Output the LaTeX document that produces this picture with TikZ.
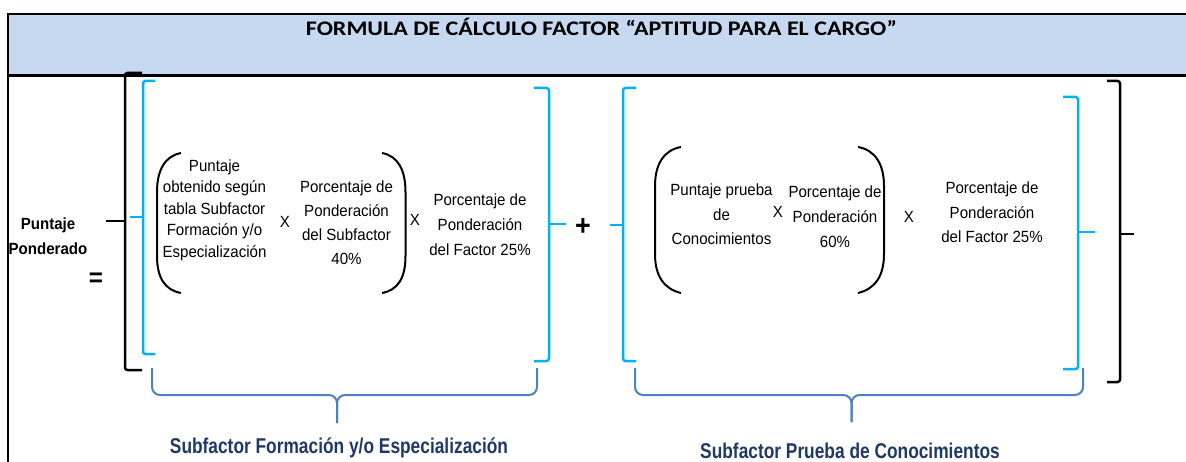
\documentclass[tikz,border=0pt]{standalone}
\usepackage{fontspec}
\setmainfont{Liberation Sans}[FakeStretch=0.93]
\newfontfamily\titlefont{Carlito}[FakeStretch=1.16]
\newfontfamily\narrowfont{Liberation Sans}[FakeStretch=0.81]
\definecolor{headblue}{HTML}{C6D9F0}
\definecolor{brcyan}{HTML}{00B0F0}
\definecolor{bracesteel}{HTML}{4F81BD}
\definecolor{labelnavy}{HTML}{1F3864}
\begin{document}
\begin{tikzpicture}[x=1pt,y=-1pt,
    txt/.style={align=center,inner sep=0pt},
    blkbr/.style={line width=2.5pt,rounded corners=2.5pt},
    cyanbr/.style={brcyan,line width=2.5pt,rounded corners=2.5pt},
    parbr/.style={line width=2pt},
    bracebr/.style={bracesteel,line width=2pt,rounded corners=8pt}]
  \clip (0,0) rectangle (1186,462);

  % frame and header
  \fill[headblue] (8,14) rectangle (1190,75);
  \draw[line width=2.5pt] (8,470)--(8,14)--(1190,14);
  \draw[line width=2.5pt] (8,75.5)--(1190,75.5);
  \node[anchor=base,inner sep=0pt,font=\titlefont\bfseries\fontsize{20.7}{24}\selectfont] (title)
    at (601.5,35.5) {FORMULA DE CÁLCULO FACTOR “APTITUD PARA EL CARGO”};

  % left side
  \node[txt,font=\bfseries\fontsize{16.2}{25}\selectfont] (pp) at (48,236.5) {Puntaje\\Ponderado};
  \node[txt,font=\bfseries\fontsize{26}{28}\selectfont] (eq) at (96,280) {=};

  % big black brackets
  \draw[blkbr] (142,73) -| (125,221) |- (142,370);
  \draw[blkbr] (125,221)--(106,221);
  \draw[blkbr] (1107,81) -| (1120,382) -- (1107,382);
  \draw[blkbr] (1120,234)--(1134,234);

  % first subfactor
  \draw[cyanbr] (155,81) -| (143,354) -- (155,354);
  \draw[cyanbr] (143,217)--(130,217);
  \draw[cyanbr] (534,88) -| (549,361) -- (534,361);
  \draw[cyanbr] (549,224)--(566,224);
  \draw[parbr] (181,153) .. controls (165,156) and (157,170) .. (157,192) -- (157,256)
    .. controls (157,278) and (165,290) .. (181,293);
  \draw[parbr] (382,153) .. controls (398,156) and (405.5,170) .. (405.5,192) -- (405.5,256)
    .. controls (405.5,278) and (398,290) .. (382,293);
  \node[txt,font=\fontsize{16.2}{21.5}\selectfont] (obt) at (214.5,210)
    {Puntaje\\obtenido según\\tabla Subfactor\\Formación y/o\\Especialización};
  \node[txt,font=\fontsize{16.2}{20}\selectfont] (xa) at (285,221.5) {X};
  \node[txt,font=\fontsize{16.2}{24}\selectfont] (pondsub) at (346.5,222.5)
    {Porcentaje de\\Ponderación\\del Subfactor\\40\%};
  \node[txt,font=\fontsize{16.2}{20}\selectfont] (xb) at (415,220) {X};
  \node[txt,font=\fontsize{16.2}{25}\selectfont] (facta) at (480,225)
    {Porcentaje de\\Ponderación\\del Factor 25\%};

  \node[txt,font=\bfseries\fontsize{29}{30}\selectfont] (plus) at (583,227) {+};

  % second subfactor
  \draw[cyanbr] (636,88) -| (623,361) -- (636,361);
  \draw[cyanbr] (623,225)--(610,225);
  \draw[cyanbr] (1063,97) -| (1078,369) -- (1063,369);
  \draw[cyanbr] (1078,232)--(1095,232);
  \draw[parbr] (681,147) .. controls (664,150) and (655,164) .. (655,186) -- (655,254)
    .. controls (655,276) and (664,289) .. (681,293);
  \draw[parbr] (858,147) .. controls (875,150) and (884,164) .. (884,186) -- (884,254)
    .. controls (884,276) and (875,289) .. (858,293);
  \node[txt,font=\fontsize{16.2}{24.5}\selectfont] (prueba) at (721.5,214.5)
    {Puntaje prueba\\de\\Conocimientos};
  \node[txt,font=\fontsize{16.2}{20}\selectfont] (xc) at (778,211.5) {X};
  \node[txt,font=\fontsize{16.2}{25}\selectfont] (pondsixty) at (835,217)
    {Porcentaje de\\Ponderación\\60\%};
  \node[txt,font=\fontsize{16.2}{20}\selectfont] (xd) at (909,217) {X};
  \node[txt,font=\fontsize{16.2}{24.5}\selectfont] (factb) at (992,212.5)
    {Porcentaje de\\Ponderación\\del Factor 25\%};

  % bottom braces
  \draw[bracebr] (152,368) |- (337,395) -- (337,423);
  \draw[bracebr] (537,368) |- (337,395) -- (337,423);
  \draw[bracebr] (635,368) |- (851.5,395) -- (851.5,422);
  \draw[bracebr] (1083,368) |- (851.5,395) -- (851.5,422);
  \node[txt,text=labelnavy,font=\narrowfont\bfseries\fontsize{21.4}{24}\selectfont] (sfform)
    at (339,448) {Subfactor Formación y/o Especialización};
  \node[txt,text=labelnavy,font=\narrowfont\bfseries\fontsize{21.4}{24}\selectfont] (sfprueba)
    at (850,451) {Subfactor Prueba de Conocimientos};
\end{tikzpicture}
\end{document}
